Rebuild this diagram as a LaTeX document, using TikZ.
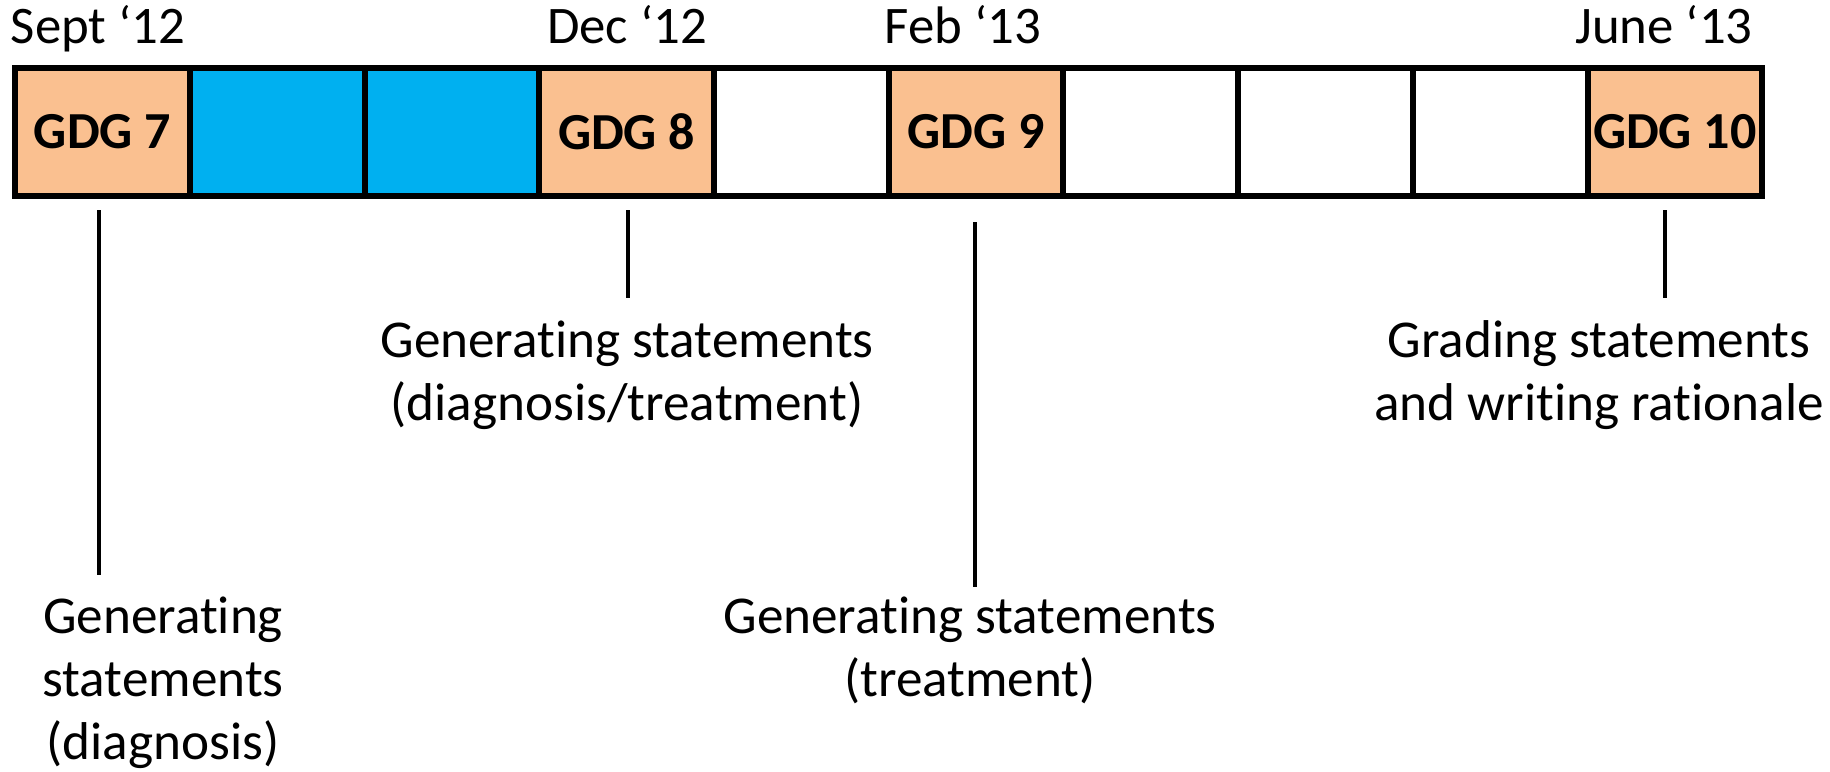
\documentclass[tikz,border=0pt]{standalone}
\usepackage{fontspec}
\setmainfont{Carlito}[Ligatures={NoCommon}]
\definecolor{gdgorange}{HTML}{FAC090}
\definecolor{gapblue}{HTML}{00B0F0}
\begin{document}
\begin{tikzpicture}[x=0.5pt,y=-0.5pt,
  cell/.style={draw=black,line width=3pt,minimum width=87.35pt,minimum height=64.15pt,inner sep=0pt,outer sep=0pt,font=\fontsize{26}{31.5}\selectfont\bfseries},
  gdg/.style={cell,fill=gdgorange},
  gap/.style={cell,fill=gapblue},
  empty/.style={cell,fill=white},
  datelbl/.style={font=\fontsize{26.4}{31.5}\selectfont,inner sep=0pt,anchor=base},
  desc/.style={font=\fontsize{26.6}{31.5}\selectfont,align=center,inner sep=0pt,anchor=north},
  conn/.style={line width=2pt}]
\useasboundingbox (0,0) rectangle (1830,771);
% bar cells
\node[gdg]   (b0) at (102.55,131.85) {GDG 7};
\node[gap]   (b1) at (277.25,131.85) {};
\node[gap]   (b2) at (451.95,131.85) {};
\node[gdg]   (b3) at (626.65,131.85) {GDG 8};
\node[empty] (b4) at (801.35,131.85) {};
\node[gdg]   (b5) at (976.05,131.85) {GDG 9};
\node[empty] (b6) at (1150.75,131.85) {};
\node[empty] (b7) at (1325.45,131.85) {};
\node[empty] (b8) at (1500.15,131.85) {};
\node[gdg]   (b9) at (1674.85,131.85) {GDG 10};
% dates
\node[datelbl] (d0) at (98,43) {Sept ‘12};
\node[datelbl] (d3) at (627,43) {Dec ‘12};
\node[datelbl] (d5) at (963,43) {Feb ‘13};
\node[datelbl] (d9) at (1664,43) {June ‘13};
% descriptions
\node[desc] (t0) at (163,596) {Generating\\statements\\(diagnosis)};
\node[desc] (t3) at (627,320) {Generating statements\\(diagnosis/treatment)};
\node[desc] (t5) at (970,596) {Generating statements\\(treatment)};
\node[desc] (t9) at (1599,320) {Grading statements\\and writing rationale};
% connectors
\coordinate (c0a) at (99,210);  \coordinate (c0b) at (99,575);
\coordinate (c3a) at (628,210); \coordinate (c3b) at (628,298);
\coordinate (c5a) at (975,222); \coordinate (c5b) at (975,587);
\coordinate (c9a) at (1665,210); \coordinate (c9b) at (1665,298);
\draw[conn] (c0a) -- (c0b);
\draw[conn] (c3a) -- (c3b);
\draw[conn] (c5a) -- (c5b);
\draw[conn] (c9a) -- (c9b);
\end{tikzpicture}
\end{document}
